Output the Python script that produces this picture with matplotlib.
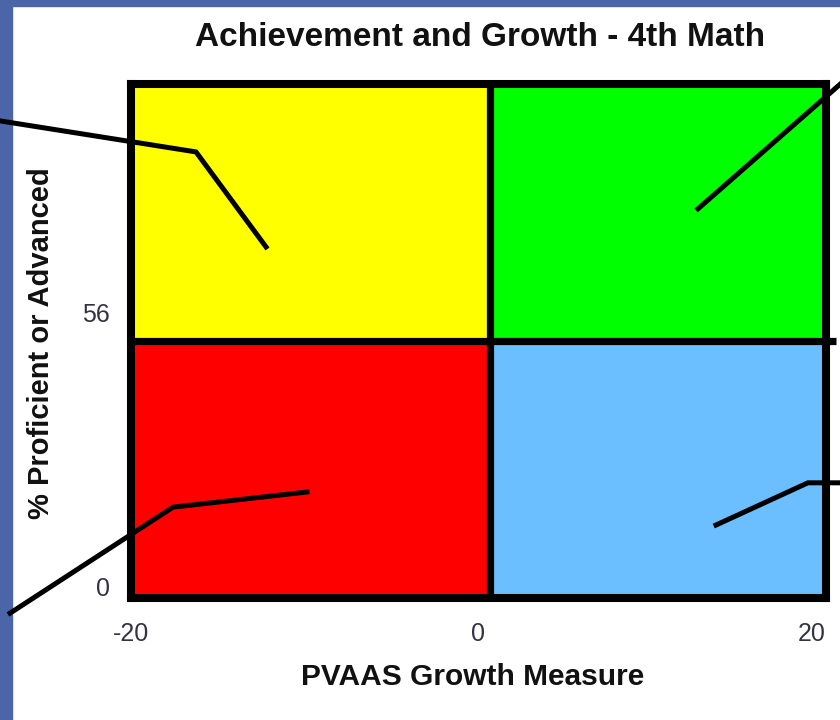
import matplotlib
matplotlib.use('Agg')
import matplotlib.pyplot as plt
from matplotlib.patches import Rectangle
from matplotlib.transforms import ScaledTranslation

plt.rcParams['font.family'] = ['Liberation Sans', 'DejaVu Sans']

# quadrant layout (growth measure on x, % proficient on y)
x_edges = [-20, 0.66, 20]
y_edges = [0, 56, 112]
quad_colors = [['#ff0000', '#6cbfff'],   # bottom row: left, right
               ['#ffff00', '#00ff00']]   # top row: left, right

x_ticks = [-20, 0, 20]
x_tick_labels = ['-20', '0', '20']
y_ticks = [0, 56]
y_tick_labels = ['0', '56']

# callout leader lines, in data units
callout_yellow_x = [-27.6, -16.26, -12.23]
callout_yellow_y = [104.0, 97.2, 76.5]
callout_green_x = [12.63, 21.1]
callout_green_y = [84.8, 112.9]
callout_red_x = [-26.96, -17.58, -9.87]
callout_red_y = [-3.3, 19.8, 23.1]
callout_blue_x = [13.67, 18.96, 21.1]
callout_blue_y = [15.9, 25.1, 25.1]

fig = plt.figure(figsize=(8.4, 7.2), dpi=100, facecolor='white')

# slide background strips
slide_blue = '#4a65a8'
fig.patches.append(Rectangle((0, 0), 12 / 840, 1, transform=fig.transFigure, color=slide_blue, zorder=-2))
fig.patches.append(Rectangle((0, 1 - 6 / 720), 1, 6 / 720, transform=fig.transFigure, color=slide_blue, zorder=-2))

ax = fig.add_axes([131 / 840, 1 - 598 / 720, 695 / 840, 514 / 720])

for row in range(2):
    for col in range(2):
        ax.bar(x_edges[col], y_edges[row + 1] - y_edges[row], bottom=y_edges[row],
               width=x_edges[col + 1] - x_edges[col], align='edge',
               color=quad_colors[row][col], linewidth=0, zorder=1)

ax.plot([x_edges[1], x_edges[1]], [y_edges[0], y_edges[2]], color='black', lw=5.2, zorder=3,
        solid_capstyle='butt')
ax.plot([x_edges[0], 20.58], [y_edges[1], y_edges[1]], color='black', lw=5.2, zorder=3,
        solid_capstyle='butt', clip_on=False)

for cx, cy in [(callout_yellow_x, callout_yellow_y), (callout_green_x, callout_green_y),
               (callout_red_x, callout_red_y), (callout_blue_x, callout_blue_y)]:
    ax.plot(cx, cy, color='black', lw=3.6, clip_on=False, zorder=5, solid_joinstyle='miter')

ax.set_xlim(x_edges[0], x_edges[-1])
ax.set_ylim(y_edges[0], y_edges[-1])

for sp in ax.spines.values():
    sp.set_linewidth(5.8)
    sp.set_color('black')
    sp.set_zorder(4)

ax.set_xticks(x_ticks)
ax.set_xticklabels(x_tick_labels)
ax.set_yticks(y_ticks)
ax.set_yticklabels(y_tick_labels)
ax.tick_params(length=0, labelsize=18, colors='#333344')
ax.tick_params(axis='x', pad=17)
ax.tick_params(axis='y', pad=15)
ax.get_xticklabels()[-1].set_ha('right')
ylabs = ax.get_yticklabels()
ylabs[0].set_transform(ylabs[0].get_transform() + ScaledTranslation(0, 0.11, fig.dpi_scale_trans))
ylabs[1].set_transform(ylabs[1].get_transform() + ScaledTranslation(0, 0.28, fig.dpi_scale_trans))

fig.text(480 / 840, 1 - 38 / 720, 'Achievement and Growth - 4th Math', ha='center', va='center',
         fontsize=24, fontweight='bold', color='#111111')
fig.text(473 / 840, 1 - 677 / 720, 'PVAAS Growth Measure', ha='center', va='center',
         fontsize=21.5, fontweight='bold', color='#111111')
fig.text(41 / 840, 1 - 343 / 720, '% Proficient or Advanced', ha='center', va='center',
         rotation=90, fontsize=21, fontweight='bold', color='#111111')

fig.savefig('out.png', dpi=100, facecolor='white')
